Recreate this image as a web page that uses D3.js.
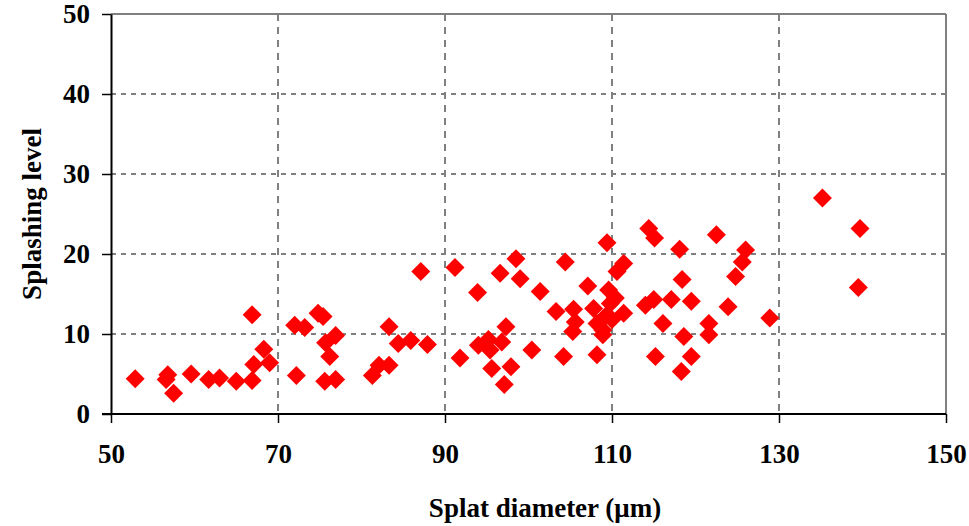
<!DOCTYPE html>
<html>
<head>
<meta charset="utf-8">
<script src="https://cdn.jsdelivr.net/npm/d3@7"></script>
<style>
body{margin:0;background:#fff;}
text{font-family:"Liberation Serif","Times New Roman",serif;font-weight:bold;}
</style>
</head>
<body>
<script>
// splat diameter (um) and splashing level
var diameter=[52.9,56.8,56.6,57.5,59.6,61.7,63.0,65.0,66.9,67.1,66.9,68.3,69.0,72.2,72.0,73.2,74.8,75.4,75.7,76.9,
	76.2,75.6,76.9,81.3,82.1,83.3,83.3,84.4,85.9,87.9,87.1,91.2,93.9,91.8,94.0,95.2,95.4,96.8,97.3,95.6,
	97.9,97.1,96.6,98.5,99.0,100.4,101.4,103.3,104.2,104.4,105.4,105.6,105.3,107.1,107.8,108.2,108.2,108.9,108.9,109.4,
	109.6,110.4,109.8,109.2,110.0,111.4,110.6,111.4,114.4,115.1,114.0,115.0,116.1,115.2,117.1,118.1,118.4,118.6,118.3,119.5,
	119.5,122.5,121.6,121.6,123.9,124.8,125.6,126.0,128.9,135.2,139.7,139.5];
var splashing=[4.4,4.9,4.3,2.6,5.0,4.3,4.5,4.1,4.2,6.2,12.4,8.1,6.4,4.8,11.1,10.8,12.6,12.2,8.9,9.8,
	7.2,4.1,4.3,4.8,6.1,6.1,10.9,8.8,9.2,8.7,17.8,18.3,15.2,7.0,8.6,9.3,8.0,9.0,10.9,5.7,
	5.9,3.7,17.6,19.4,16.9,8.0,15.3,12.8,7.2,19.0,13.1,11.5,10.3,16.0,13.2,7.4,11.3,10.5,9.9,21.4,
	15.5,14.5,13.8,12.2,11.8,12.6,17.8,18.8,23.2,22.0,13.6,14.3,11.3,7.2,14.3,20.6,16.8,9.7,5.3,14.1,
	7.2,22.4,11.3,9.9,13.4,17.2,19.0,20.5,12.0,27.0,23.2,15.8];
var xTicks=[50,70,90,110,130,150];
var yTicks=[0,10,20,30,40,50];

var width=969, height=526;
var mLeft=111, mRight=946, mTop=14, mBottom=414;

var x=d3.scaleLinear().domain([50,150]).range([mLeft,mRight]);
var y=d3.scaleLinear().domain([0,50]).range([mBottom,mTop]);

var svg=d3.select('body').append('svg')
		.attr('width',width)
		.attr('height',height);

// grid
svg.selectAll('.hgrid').data(yTicks.slice(1,5)).enter().append('line')
	.attr('x1',mLeft).attr('x2',mRight)
	.attr('y1',function(d){return y(d);}).attr('y2',function(d){return y(d);})
	.attr('stroke','#000').attr('stroke-width',1).attr('stroke-dasharray','5,5');
svg.selectAll('.vgrid').data(xTicks.slice(1,5)).enter().append('line')
	.attr('y1',mTop).attr('y2',mBottom)
	.attr('x1',function(d){return x(d);}).attr('x2',function(d){return x(d);})
	.attr('stroke','#808080').attr('stroke-width',2).attr('stroke-dasharray','7,6');

// frame (top and right are grey)
svg.append('line').attr('x1',mLeft).attr('x2',mRight).attr('y1',mTop).attr('y2',mTop)
	.attr('stroke','#808080').attr('stroke-width',2);
svg.append('line').attr('x1',mRight).attr('x2',mRight).attr('y1',mTop).attr('y2',mBottom)
	.attr('stroke','#808080').attr('stroke-width',2);

var xAxis=d3.axisBottom(x).tickValues(xTicks).tickSize(9).tickPadding(21).tickSizeOuter(0);
var yAxis=d3.axisLeft(y).tickValues(yTicks).tickSize(9).tickPadding(12).tickSizeOuter(0);

var gx=svg.append('g').attr('transform','translate(0,'+mBottom+')').call(xAxis);
var gy=svg.append('g').attr('transform','translate('+mLeft+',0)').call(yAxis);
gx.select('.domain').attr('stroke','#000').attr('stroke-width',2).attr('d','M'+(mLeft-9)+',0H'+mRight);
gy.select('.domain').attr('stroke','#000').attr('stroke-width',2);
svg.selectAll('.tick line').attr('stroke','#000').attr('stroke-width',1.5);
svg.selectAll('.tick text').attr('font-size',27).attr('fill','#000')
	.attr('font-family','"Liberation Serif","Times New Roman",serif').attr('font-weight','bold');

// points
var diamond=d3.symbol().type(d3.symbolSquare).size(180);
svg.selectAll('.pt').data(diameter).enter().append('path')
	.attr('d',diamond)
	.attr('transform',function(d,i){return 'translate('+x(d)+','+y(splashing[i])+') rotate(45)';})
	.attr('fill','#ff0000');

// labels
svg.append('text')
	.attr('x',545).attr('y',517)
	.attr('text-anchor','middle').attr('font-size',27)
	.text('Splat diameter (\u03bcm)');
svg.append('text')
	.attr('transform','translate(41,214) rotate(-90)')
	.attr('text-anchor','middle').attr('font-size',27)
	.text('Splashing level');
</script>
</body>
</html>
